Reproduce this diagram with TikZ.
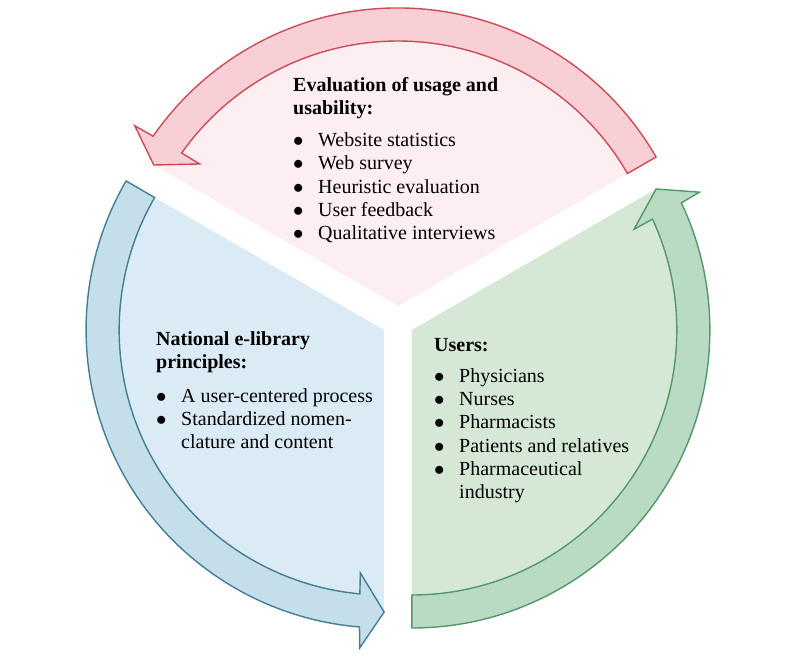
\documentclass[tikz,border=0pt]{standalone}
\usepackage{fontspec}
\setmainfont{Liberation Serif}
\usetikzlibrary{calc}
\definecolor{pinkfill}{HTML}{FDEEF2}
\definecolor{redfill}{HTML}{F7CFD5}
\definecolor{redline}{HTML}{CC4B57}
\definecolor{bluefill}{HTML}{DBEBF6}
\definecolor{bluearrowfill}{HTML}{C5DFEA}
\definecolor{blueline}{HTML}{447E93}
\definecolor{greenfill}{HTML}{D5E8D6}
\definecolor{greenarrowfill}{HTML}{B9DBC4}
\definecolor{greenline}{HTML}{55976A}
\newcommand\bul{\makebox[25pt][l]{$\bullet$}}
\newcommand\drawcyclearrow[4]{%
  \pgfmathsetmacro\aOut{#4-4.74}%
  \pgfmathsetmacro\aBo{#4-4.4}%
  \pgfmathsetmacro\aBi{#4-5.6}%
  \pgfmathsetmacro\aIn{#4-5.26}%
  \filldraw[#1] ($(#2)+(#3:298)$) arc[start angle=#3,end angle=\aOut,radius=298]
    -- ($(#2)+(\aBo:319)$) -- ($(#2)+(#4:282)$) -- ($(#2)+(\aBi:244)$)
    -- ($(#2)+(\aIn:265)$) arc[start angle=\aIn,end angle=#3,radius=265] -- cycle;}
\tikzset{
  arrowshape/.style={line width=1.4pt, line join=miter},
  txt/.style={inner sep=0pt, anchor=north west, align=left, font=\fontsize{20}{23.2}\selectfont}
}
\begin{document}
\begin{tikzpicture}[x=1pt,y=1pt]
\useasboundingbox (-398,-340) rectangle (402,322);
\coordinate (P) at (0,16);
\coordinate (B) at (-13.86,-8);
\coordinate (G) at (13.86,-8);
% sectors
\fill[pinkfill] (P) -- ($(P)+(30:282)$) arc[start angle=30,end angle=150,radius=282] -- cycle;
\fill[bluefill] (B) -- ($(B)+(150:282)$) arc[start angle=150,end angle=270,radius=282] -- cycle;
\fill[greenfill] (G) -- ($(G)+(-90:282)$) arc[start angle=-90,end angle=30,radius=282] -- cycle;
% arrows
\drawcyclearrow{arrowshape, fill=redfill, draw=redline}{P}{30}{150}
\drawcyclearrow{arrowshape, fill=bluearrowfill, draw=blueline}{B}{150}{270}
\drawcyclearrow{arrowshape, fill=greenarrowfill, draw=greenline}{G}{-90}{30}
% texts
\node[txt] (eval) at (-105,245) {\textbf{Evaluation of usage and}\\ \textbf{usability:}\\[9pt]
  \bul Website statistics\\ \bul Web survey\\ \bul Heuristic evaluation\\
  \bul User feedback\\ \bul Qualitative interviews};
\node[txt] (natl) at (-242,-9) {\textbf{National e-library}\\ \textbf{principles:}\\[11pt]
  \bul A user-centered process\\ \bul Standardized nomen-\\ \hspace*{25pt}clature and content};
\node[txt] (users) at (36,-16) {\textbf{Users:}\\[8pt]
  \bul Physicians\\ \bul Nurses\\ \bul Pharmacists\\ \bul Patients and relatives\\
  \bul Pharmaceutical\\ \hspace*{25pt}industry};
\end{tikzpicture}
\end{document}
